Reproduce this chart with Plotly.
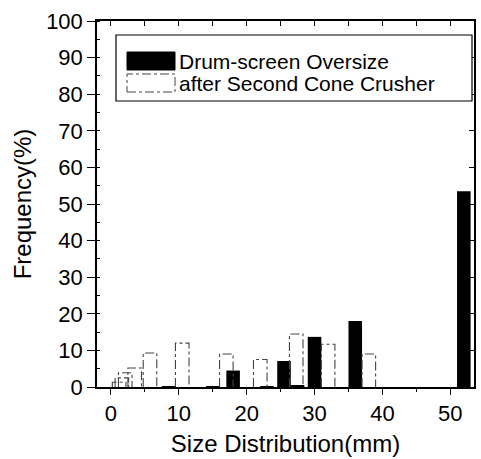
import plotly.graph_objects as go

# ---- data ----
oversize_size = [8.5, 15, 18, 23, 25.5, 27.5, 30, 36, 52]
oversize_freq = [0.2, 0.2, 4.5, 0.2, 7.1, 0.3, 13.7, 18.0, 53.5]
crusher_size = [1.2, 1.6, 2.1, 3.5, 5.75, 10.5, 17, 22, 27.3, 32, 38]
crusher_freq = [1.3, 2.5, 3.9, 5.2, 9.3, 12.0, 9.0, 7.5, 14.5, 11.7, 9.0]
bar_width = 2.0
x_ticks = [0, 10, 20, 30, 40, 50]
y_ticks = list(range(0, 101, 10))
series_names = ["Drum-screen Oversize", "after Second Cone Crusher"]

FONT = "Liberation Sans, Arial, sans-serif"
XR = [-2.06, 53.5]
YR = [0, 100]

fig = go.Figure()

fig.add_trace(go.Bar(
    x=oversize_size, y=oversize_freq, width=bar_width,
    marker=dict(color="black", line=dict(width=0)),
    name=series_names[0], showlegend=False,
))

# dashed outline bars built from the data arrays
ox, oy = [], []
for c, v in zip(crusher_size, crusher_freq):
    l, r = c - bar_width / 2, c + bar_width / 2
    ox += [l, l, r, r, None]
    oy += [0, v, v, 0, None]
fig.add_trace(go.Scatter(
    x=ox, y=oy, mode="lines",
    line=dict(color="#444", width=1.1, dash="dashdot"),
    name=series_names[1], showlegend=False, hoverinfo="skip",
))

# invisible trace for mirrored axes
fig.add_trace(go.Scatter(x=[None], y=[None], xaxis="x2", yaxis="y2",
                         showlegend=False, hoverinfo="skip"))

axis_common = dict(showgrid=False, zeroline=False, showline=True,
                   linecolor="black", linewidth=1.5, automargin=False,
                   tickcolor="black", tickwidth=1.3)

fig.update_layout(
    width=481, height=459,
    margin=dict(l=97, r=7, t=21, b=72),
    plot_bgcolor="white", paper_bgcolor="white",
    font=dict(family=FONT, color="black"),
    barmode="overlay",
    xaxis=dict(**axis_common, range=XR, tickvals=x_ticks, ticks="outside",
               ticklen=6, tickfont=dict(size=22),
               minor=dict(dtick=5, tick0=0, ticks="outside", ticklen=3,
                          tickcolor="black", tickwidth=1),
               title=dict(text="Size Distribution(mm)", font=dict(size=24),
                          standoff=10)),
    yaxis=dict(**axis_common, range=YR, tickvals=y_ticks, ticks="outside",
               ticklen=8, tickfont=dict(size=22),
               minor=dict(dtick=5, tick0=0, ticks="inside", ticklen=3,
                          tickcolor="black", tickwidth=1),
               title=dict(text="Frequency(%)", font=dict(size=24),
                          standoff=8)),
    xaxis2=dict(**axis_common, range=XR, overlaying="x", side="top",
                anchor="y", tickvals=list(range(0, 55, 5)), ticks="inside",
                ticklen=5, showticklabels=False),
    yaxis2=dict(**axis_common, range=YR, overlaying="y", side="right",
                anchor="x", tickvals=y_ticks, ticks="inside", ticklen=5,
                showticklabels=False),
)

# manual legend (box, swatches, text)
shapes = [
    dict(type="rect", xref="paper", yref="paper", x0=0.0504, x1=0.9947,
         y0=0.7814, y1=0.9617, line=dict(color="black", width=1.2),
         fillcolor="white", layer="above"),
    dict(type="rect", xref="paper", yref="paper", x0=0.0796, x1=0.2069,
         y0=0.8661, y1=0.9153, line=dict(color="black", width=1),
         fillcolor="black", layer="above"),
    dict(type="rect", xref="paper", yref="paper", x0=0.0796, x1=0.2069,
         y0=0.806, y1=0.8552, line=dict(color="#444", width=1, dash="dashdot"),
         fillcolor="white", layer="above"),
]
fig.update_layout(shapes=shapes)
fig.add_annotation(xref="paper", yref="paper", x=0.216, y=0.8907,
                   xanchor="left", yanchor="middle", showarrow=False,
                   borderpad=0, text=series_names[0],
                   font=dict(size=21, family=FONT))
fig.add_annotation(xref="paper", yref="paper", x=0.216, y=0.8306,
                   xanchor="left", yanchor="middle", showarrow=False,
                   borderpad=0, text=series_names[1],
                   font=dict(size=21, family=FONT))

fig.write_html("out.html")
